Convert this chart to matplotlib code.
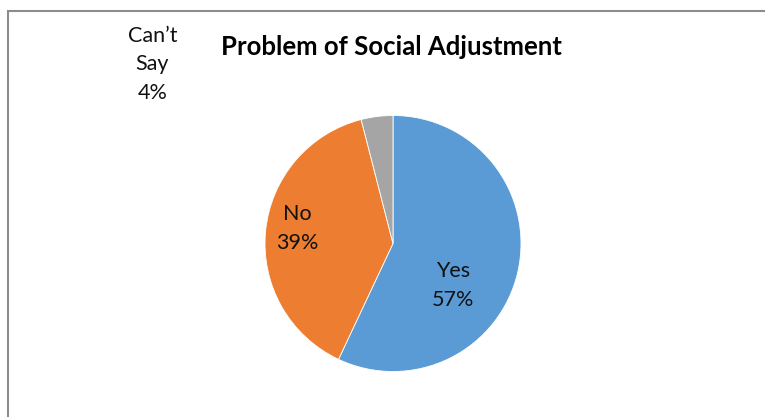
import matplotlib
matplotlib.use('Agg')
import matplotlib.pyplot as plt
from matplotlib.patches import Rectangle

# data
labels = ['Yes', 'No', 'Can\u2019t\nSay']
values = [57, 39, 4]
colors = ['#5B9BD5', '#ED7D31', '#A5A5A5']
title = 'Problem of Social Adjustment'

# label positions in axes data units (pie radius = 1)
label_pos = [(0.47, -0.33), (-0.75, 0.12), (-1.88, 1.40)]

plt.rcParams['font.family'] = ['Lato', 'DejaVu Sans']

W, H = 765, 417
fig = plt.figure(figsize=(W / 100, H / 100), dpi=100)

# chart-area border (only top and left visible in the crop)
fig.patches.append(Rectangle((7.5 / W, -0.1), 1.2, (H - 10.5) / H + 0.1,
                             transform=fig.transFigure, fill=False,
                             edgecolor='#8c8c8c', linewidth=1.5))

cx, cy, r = 393, 417 - 243.5, 128
ax = fig.add_axes([(cx - r) / W, (cy - r) / H, 2 * r / W, 2 * r / H])
ax.pie(values, colors=colors, startangle=90, counterclock=False,
       radius=1, wedgeprops=dict(edgecolor='white', linewidth=0.6))
ax.set_xlim(-1, 1)
ax.set_ylim(-1, 1)
ax.set_aspect('equal')
ax.axis('off')

for lab, val, (x, y) in zip(labels, values, label_pos):
    ax.text(x, y, f'{lab}\n{val}%', ha='center', va='center',
            fontsize=15.5, color='#111111', linespacing=1.55, clip_on=False)

fig.text(391 / W, 1 - 47 / H, title, ha='center', va='center',
         fontsize=18.5, fontweight='bold', color='black')

fig.savefig('out.png', dpi=100)
